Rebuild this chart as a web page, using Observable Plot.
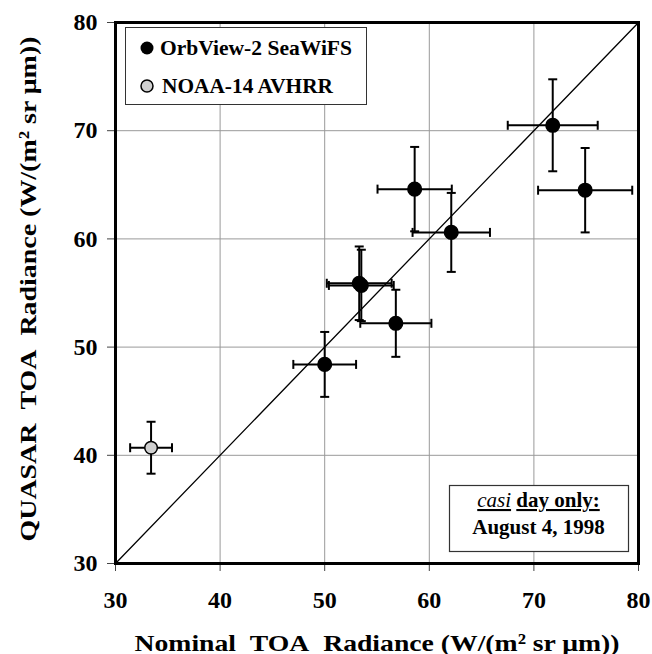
<!DOCTYPE html>
<html>
<head>
<meta charset="utf-8">
<script src="https://cdn.jsdelivr.net/npm/d3@7"></script>
<script src="https://cdn.jsdelivr.net/npm/@observablehq/plot@0.6"></script>
<style>
  html, body { margin: 0; padding: 0; background: white; }
  #chart svg { display: block; }
</style>
</head>
<body>
<div id="chart"></div>
<script>
// ---- data ----
const xTicks = [30, 40, 50, 60, 70, 80];
const yTicks = [30, 40, 50, 60, 70, 80];
const diagonal = [30, 80];

// OrbView-2 SeaWiFS
const seaX    = [50.0, 53.3, 53.5, 56.8, 58.6, 62.1, 71.8, 74.9];
const seaY    = [48.4, 55.9, 55.7, 52.2, 64.6, 60.6, 70.5, 64.5];
const seaXErr = [3.0, 3.1, 3.1, 3.4, 3.55, 3.7, 4.3, 4.5];
const seaYErr = [3.0, 3.4, 3.3, 3.1, 3.9, 3.65, 4.25, 3.9];

// NOAA-14 AVHRR
const avX    = [33.4];
const avY    = [40.7];
const avXErr = [2.0];
const avYErr = [2.4];

const seriesNames = ["OrbView-2 SeaWiFS", "NOAA-14 AVHRR"];
const xTitle = "Nominal\u00a0\u00a0TOA\u00a0\u00a0Radiance (W/(m\u00b2 sr \u03bcm))";
const yTitle = "QUASAR\u00a0\u00a0TOA\u00a0\u00a0Radiance (W/(m\u00b2 sr \u03bcm))";

// ---- build table ----
function rows(X, Y, EX, EY, s) {
  return X.map((x, i) => ({x, y: Y[i], ex: EX[i], ey: EY[i], series: s,
    xlo: x - EX[i], xhi: x + EX[i], ylo: Y[i] - EY[i], yhi: Y[i] + EY[i]}));
}
const sea = rows(seaX, seaY, seaXErr, seaYErr, seriesNames[0]);
const av = rows(avX, avY, avXErr, avYErr, seriesNames[1]);
const all = sea.concat(av);
const diag = diagonal.map(v => ({v}));

// custom cap symbols
const hCap = { draw(ctx, size) { const r = Math.sqrt(size / Math.PI); ctx.moveTo(-r, 0); ctx.lineTo(r, 0); } };
const vCap = { draw(ctx, size) { const r = Math.sqrt(size / Math.PI); ctx.moveTo(0, -r); ctx.lineTo(0, r); } };

const FONT = "'Liberation Serif', 'Times New Roman', Times, serif";

const svg = Plot.plot({
  width: 652,
  height: 654,
  marginLeft: 115,
  marginRight: 14,
  marginTop: 22,
  marginBottom: 91,
  style: { fontFamily: FONT, background: "white", color: "black", overflow: "visible" },
  x: { domain: [30, 80] },
  y: { domain: [30, 80] },
  marks: [
    Plot.gridX(xTicks, { stroke: "#999", strokeOpacity: 1, strokeWidth: 1 }),
    Plot.gridY(yTicks, { stroke: "#999", strokeOpacity: 1, strokeWidth: 1 }),
    Plot.axisX(xTicks, { tickSize: 8, tickPadding: 19, fontSize: 24, fontWeight: "bold", label: null, stroke: "#444" }),
    Plot.axisY(yTicks, { tickSize: 8, tickPadding: 10, fontSize: 24, fontWeight: "bold", label: null, stroke: "#444" }),
    Plot.line(diag, { x: "v", y: "v", stroke: "black", strokeWidth: 1.3 }),
    // error bars
    Plot.link(all, { x1: "xlo", x2: "xhi", y1: "y", y2: "y", stroke: "black", strokeWidth: 2 }),
    Plot.link(all, { x1: "x", x2: "x", y1: "ylo", y2: "yhi", stroke: "black", strokeWidth: 2 }),
    Plot.dot(all, { x: "xlo", y: "y", symbol: vCap, r: 4.5, stroke: "black", strokeWidth: 2, fill: "none" }),
    Plot.dot(all, { x: "xhi", y: "y", symbol: vCap, r: 4.5, stroke: "black", strokeWidth: 2, fill: "none" }),
    Plot.dot(all, { x: "x", y: "ylo", symbol: hCap, r: 4.5, stroke: "black", strokeWidth: 2, fill: "none" }),
    Plot.dot(all, { x: "x", y: "yhi", symbol: hCap, r: 4.5, stroke: "black", strokeWidth: 2, fill: "none" }),
    // points
    Plot.dot(sea, { x: "x", y: "y", r: 6.8, fill: "black", stroke: "black" }),
    Plot.dot(av, { x: "x", y: "y", r: 6.3, fill: "#d0d0d0", stroke: "black", strokeWidth: 1.5 }),
    Plot.frame({ stroke: "black", strokeWidth: 3 }),
    // axis titles
    Plot.text([xTitle], { text: d => d, frameAnchor: "bottom", textAnchor: "middle", dx: 0, dy: 87, fontSize: 24, fontWeight: "bold", fill: "black", className: "xtitle" }),
    Plot.text([yTitle], { text: d => d, frameAnchor: "left", textAnchor: "middle", dx: -87, dy: -4, rotate: -90, fontSize: 24, fontWeight: "bold", fill: "black", className: "ytitle" })
  ]
});

// widen titles to match the reference's wide letterforms
d3.select(svg).selectAll(".xtitle text").attr("textLength", 485).attr("lengthAdjust", "spacingAndGlyphs");
d3.select(svg).selectAll(".ytitle text").attr("textLength", 505).attr("lengthAdjust", "spacingAndGlyphs");

// ---- legend & annotation boxes (overlay) ----
const s = d3.select(svg);
const lg = s.append("g").attr("font-family", FONT).attr("font-weight", "bold").attr("font-size", 22).attr("text-anchor", "start");
lg.append("rect").attr("x", 125.5).attr("y", 27.5).attr("width", 241).attr("height", 77)
  .attr("fill", "white").attr("stroke", "#333").attr("stroke-width", 1);
lg.append("circle").attr("cx", 147).attr("cy", 48).attr("r", 6.5).attr("fill", "black");
lg.append("circle").attr("cx", 147).attr("cy", 86).attr("r", 6).attr("fill", "#d0d0d0").attr("stroke", "black").attr("stroke-width", 1.5);
lg.append("text").attr("x", 160).attr("y", 55).attr("textLength", 192).attr("lengthAdjust", "spacingAndGlyphs").text(seriesNames[0]);
lg.append("text").attr("x", 162).attr("y", 93).attr("textLength", 171).attr("lengthAdjust", "spacingAndGlyphs").text(seriesNames[1]);

const cb = s.append("g").attr("font-family", FONT).attr("font-size", 21);
cb.append("rect").attr("x", 449.5).attr("y", 485.5).attr("width", 179).attr("height", 66)
  .attr("fill", "white").attr("stroke", "#333").attr("stroke-width", 1.2);
const t1 = cb.append("text").attr("x", 538.5).attr("y", 507).attr("text-anchor", "middle").style("white-space", "pre");
t1.append("tspan").attr("font-style", "italic").attr("text-decoration", "underline").text("casi");
t1.append("tspan").text(" ");
t1.append("tspan").attr("font-weight", "bold").attr("text-decoration", "underline").text("day only:");
cb.append("text").attr("x", 538.5).attr("y", 534).attr("text-anchor", "middle").attr("font-weight", "bold").text("August 4, 1998");

document.getElementById("chart").appendChild(svg);
</script>
</body>
</html>
